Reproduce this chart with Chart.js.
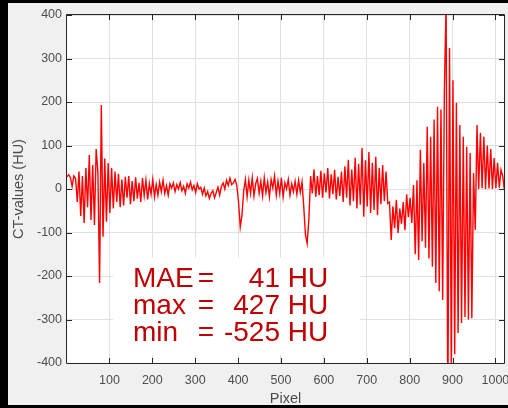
<!DOCTYPE html>
<html>
<head>
<meta charset="utf-8">
<script src="https://cdn.jsdelivr.net/npm/chart.js@4.4.1/dist/chart.umd.min.js"></script>
<style>
  html, body { margin: 0; padding: 0; background: #f0f0f0; }
  #wrap { position: relative; width: 508px; height: 408px; overflow: hidden; }
  canvas { position: absolute; left: 0; top: 0; }
  .edge { position: absolute; background: #000; }
</style>
</head>
<body>
<div id="wrap">
  <canvas id="ctProfile" width="508" height="408"></canvas>
  <div class="edge" style="left:0;top:0;width:508px;height:3px"></div>
  <div class="edge" style="left:0;top:0;width:8px;height:408px"></div>
  <div class="edge" style="left:0;top:405px;width:508px;height:3px"></div>
</div>
<script>
// CT-value profile along one detector row (difference to reference, in HU)
// sampled every 4 pixels, starting at pixel 1
var pixelStart = 1;
var pixelStep = 4;
var ctValues = [
  28, 33, 26, 6, 30, 24, -30, 40, -62, 30,
  -78, 48, -42, 78, -71, 55, -83, 92, 40, -216,
  193, -110, 70, -75, 60, -55, 48, -45, 40, -30,
  35, -42, 22, -38, 28, -20, 30, -35, 18, -28,
  27, -22, 14, -30, 25, -15, 20, -24, 12, -12,
  22, -18, 10, -14, 16, -6, 20, -10, 8, -14,
  12, 2, 14, -6, 10, 0, 15, -4, 6, -10,
  12, 2, 16, -2, 8, -8, 12, 0, 4, -12,
  2, -16, -6, -22, -10, -4, -20, -8, 4, -14,
  6, 14, 0, 20, 8, 25, 10, 14, 22, 8,
  -30, -87, -60, -5, 22, -18, 20, -10, 26, -16,
  12, 24, -10, 18, -16, 26, -8, 16, -18, 22,
  2, 30, -14, 18, -10, 26, -18, 14, 0, 22,
  -14, 12, -6, 18, -12, 20, -8, 16, -40, -105,
  -125, -70, 30, -10, 45, -18, 30, -14, 42, -20,
  36, -8, 48, -22, 34, -12, 44, -24, 28, -16,
  40, -30, 52, -20, 67, -38, 45, -28, 72, -45,
  58, -36, 94, -64, 66, -40, 85, -55, 60, -48,
  74, -60, 48, -35, 55, -28, 40, -33, -30, -117,
  -40, -90, -25, -101, -45, -80, -30, -95, -12, -65,
  -20, -78, 9, -150, 20, -163, 90, -120, 60, -135,
  143, -160, 120, -179, 160, -216, 189, -235, 183, -255,
  228, 427, -525, 324, -400, 250, -380, 198, -331, 147,
  -308, 120, -294, 97, -300, 83, -297, 37, -94, 147,
  0, 129, 2, 120, 0, 100, 1, 92, 0, 71,
  2, 60, 3, 44, 30, -3
];

var xTicks = [100, 200, 300, 400, 500, 600, 700, 800, 900, 1000];
var yTicks = [-400, -300, -200, -100, 0, 100, 200, 300, 400];

var statNames = ["MAE", "max", "min"];
var statValues = [41, 427, -525];

var points = ctValues.map(function (v, i) {
  return { x: pixelStart + i * pixelStep, y: v };
});

var FONT = "'Liberation Sans', Arial, Helvetica, sans-serif";
var AXIS_GRAY = "#4d4d4d";
var BOX_COLOR = "#262626";
Chart.defaults.font.family = FONT;

// white axes background
var plotBackground = {
  id: "plotBackground",
  beforeDraw: function (chart) {
    var a = chart.chartArea, ctx = chart.ctx;
    ctx.save();
    ctx.fillStyle = "#ffffff";
    ctx.fillRect(a.left, a.top, a.right - a.left, a.bottom - a.top);
    ctx.restore();
  }
};

// error summary text on a white backing box (hides the grid behind it)
var statsBox = {
  id: "statsBox",
  beforeDatasetsDraw: function (chart) {
    var ctx = chart.ctx, xs = chart.scales.x, ys = chart.scales.y;
    var l = xs.getPixelForValue(108), r = xs.getPixelForValue(684);
    var t = ys.getPixelForValue(-158), b = ys.getPixelForValue(-382);
    ctx.save();
    ctx.fillStyle = "#ffffff";
    ctx.fillRect(l, t, r - l, b - t);
    ctx.restore();
  },
  afterDraw: function (chart) {
    var ctx = chart.ctx, xs = chart.scales.x, ys = chart.scales.y;
    var nameX = xs.getPixelForValue(155);
    var eqX = xs.getPixelForValue(306);
    var valX = xs.getPixelForValue(610);
    var rows = [-225, -287, -349];
    ctx.save();
    ctx.fillStyle = "#c00000";
    ctx.font = "28px " + FONT;
    ctx.textBaseline = "alphabetic";
    for (var i = 0; i < statNames.length; i++) {
      var y = ys.getPixelForValue(rows[i]);
      ctx.textAlign = "left";
      ctx.fillText(statNames[i], nameX, y);
      ctx.fillText("=", eqX, y);
      ctx.textAlign = "right";
      ctx.fillText(statValues[i] + " HU", valX, y);
    }
    ctx.restore();
  }
};

// MATLAB-style box with inward tick marks on all four sides
var axesBox = {
  id: "axesBox",
  beforeDatasetsDraw: function (chart) {
    var ctx = chart.ctx, a = chart.chartArea;
    var xs = chart.scales.x, ys = chart.scales.y;
    var len = 5;
    ctx.save();
    ctx.strokeStyle = BOX_COLOR;
    ctx.lineWidth = 1;
    ctx.beginPath();
    ctx.rect(Math.round(a.left) - 0.5, Math.round(a.top) - 0.5,
             Math.round(a.right - a.left) + 1, Math.round(a.bottom - a.top) + 1);
    xTicks.forEach(function (v) {
      var px = Math.round(xs.getPixelForValue(v)) + 0.5;
      ctx.moveTo(px, a.bottom); ctx.lineTo(px, a.bottom - len);
      ctx.moveTo(px, a.top); ctx.lineTo(px, a.top + len);
    });
    yTicks.forEach(function (v) {
      var py = Math.round(ys.getPixelForValue(v)) + 0.5;
      ctx.moveTo(a.left, py); ctx.lineTo(a.left + len, py);
      ctx.moveTo(a.right, py); ctx.lineTo(a.right - len, py);
    });
    ctx.stroke();
    ctx.restore();
  }
};

new Chart(document.getElementById("ctProfile"), {
  type: "line",
  data: {
    datasets: [{
      data: points,
      borderColor: "#ff0000",
      borderWidth: 1.4,
      pointRadius: 0,
      tension: 0,
      fill: false
    }]
  },
  options: {
    responsive: false,
    animation: false,
    events: [],
    layout: { padding: { left: 0, top: 15, right: 4, bottom: 0 } },
    plugins: { legend: { display: false }, tooltip: { enabled: false } },
    scales: {
      x: {
        type: "linear",
        min: 1,
        max: 1020,
        afterFit: function (s) { s.height = 45; s.paddingLeft = 0; s.paddingRight = 0; },
        afterBuildTicks: function (s) { s.ticks = xTicks.map(function (v) { return { value: v }; }); },
        grid: { color: "#e0e0e0", drawTicks: false },
        border: { display: false },
        ticks: {
          padding: 10, color: AXIS_GRAY, font: { size: 12.5 }, maxRotation: 0, autoSkip: false,
          callback: function (v) { return String(v); }
        },
        title: { display: true, text: "Pixel", color: AXIS_GRAY, font: { size: 14.5 }, padding: { top: 0, bottom: 0 } }
      },
      y: {
        min: -400,
        max: 400,
        afterFit: function (s) { s.width = 67; s.paddingTop = 0; s.paddingBottom = 0; },
        afterBuildTicks: function (s) { s.ticks = yTicks.map(function (v) { return { value: v }; }); },
        grid: { color: "#e0e0e0", drawTicks: false },
        border: { display: false },
        ticks: {
          padding: 5, color: AXIS_GRAY, font: { size: 12.5 }, autoSkip: false,
          callback: function (v) { return String(v); }
        },
        title: { display: true, text: "CT-values (HU)", color: AXIS_GRAY, font: { size: 14.5 }, padding: { top: 10, bottom: 0 } }
      }
    }
  },
  plugins: [plotBackground, axesBox, statsBox]
});
</script>
</body>
</html>
